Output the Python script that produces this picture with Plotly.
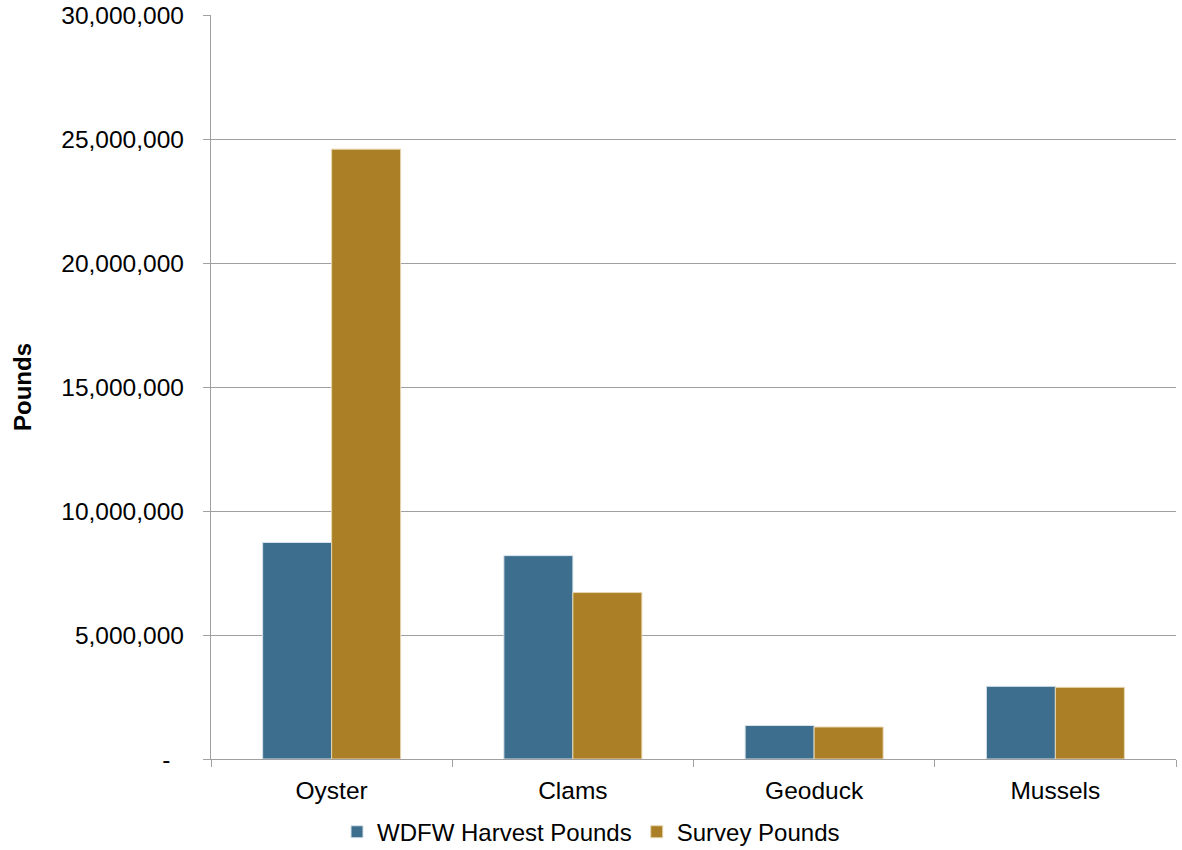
import plotly.graph_objects as go

categories = ["Oyster", "Clams", "Geoduck", "Mussels"]
wdfw_harvest = [8730000, 8200000, 1350000, 2930000]
survey_pounds = [24590000, 6710000, 1290000, 2890000]
y_tick_vals = [0, 5000000, 10000000, 15000000, 20000000, 25000000, 30000000]
y_tick_text = ["-\u00a0\u00a0", "5,000,000", "10,000,000", "15,000,000", "20,000,000", "25,000,000", "30,000,000"]

FONT = "Liberation Sans, Arial, sans-serif"
AXIS_GRAY = "#a0a0a0"

fig = go.Figure()
fig.add_trace(go.Bar(
    x=categories, y=wdfw_harvest, name="WDFW Harvest Pounds",
    marker=dict(color="#3d6e8e", line=dict(color="#d8e2ea", width=1)),
))
fig.add_trace(go.Bar(
    x=categories, y=survey_pounds, name="Survey Pounds",
    marker=dict(color="#aa7f25", line=dict(color="#e8d6b0", width=1)),
))

fig.update_layout(
    template="none",
    width=1182, height=850,
    margin=dict(l=211, r=6, t=15, b=91, autoexpand=False),
    paper_bgcolor="white", plot_bgcolor="white",
    barmode="group", bargap=0.428, bargroupgap=0,
    font=dict(family=FONT, size=24.5, color="black"),
    showlegend=True,
    legend=dict(orientation="h", xref="container", yref="container",
                x=0.5, xanchor="center", y=0.021, yanchor="middle",
                font=dict(family=FONT, size=24, color="black"),
                itemwidth=30, tracegroupgap=0, bgcolor="rgba(0,0,0,0)"),
    xaxis=dict(
        automargin=False,
        showline=True, linecolor=AXIS_GRAY, linewidth=1.3,
        ticks="outside", tickson="boundaries", ticklen=7, tickcolor=AXIS_GRAY, tickwidth=1.3,
        showgrid=False, ticklabelstandoff=9,
        tickfont=dict(family=FONT, size=24.5, color="black"),
    ),
    yaxis=dict(
        automargin=False,
        range=[0, 30000000], tickvals=y_tick_vals, ticktext=y_tick_text,
        showline=True, linecolor=AXIS_GRAY, linewidth=1.3,
        ticks="outside", ticklen=7, tickcolor=AXIS_GRAY, tickwidth=1.3,
        showgrid=True, gridcolor=AXIS_GRAY, gridwidth=1.3,
        zeroline=False, ticklabelstandoff=14, ticklabeloverflow="allow",
        tickfont=dict(family=FONT, size=24.5, color="black"),
    ),
    annotations=[dict(
        text="<b>Pounds</b>", textangle=-90, showarrow=False,
        xref="paper", yref="paper", x=0, y=0.5, xanchor="center", yanchor="middle",
        xshift=-189, font=dict(family=FONT, size=24, color="black"),
    )],
)

fig.write_html("out.html", config={"displayModeBar": False},
               post_script="document.body.style.margin='0';")
